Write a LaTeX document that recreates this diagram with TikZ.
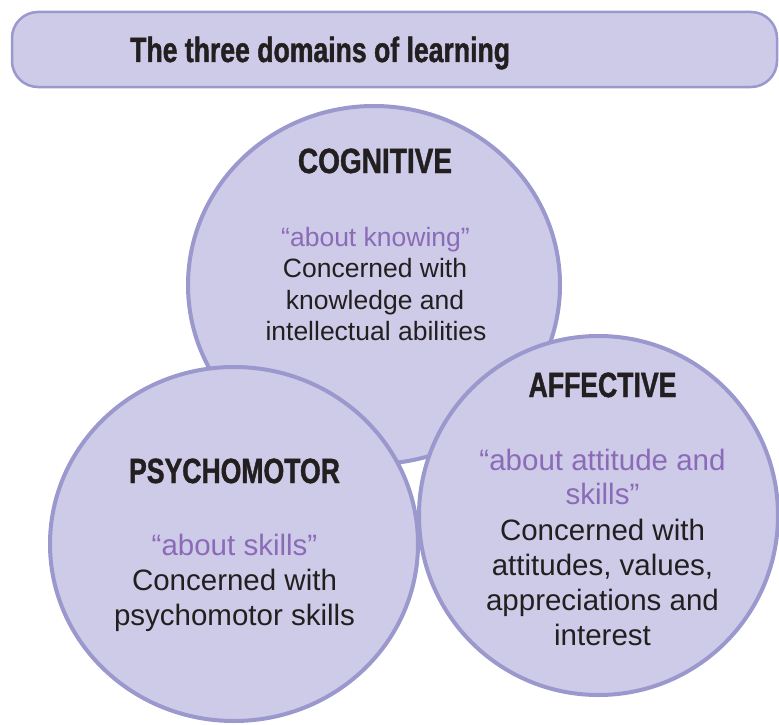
\documentclass[tikz,border=0pt]{standalone}
\usepackage{fontspec}
\setmainfont{Liberation Sans}
\newfontfamily\condfont[FakeStretch=0.8,FakeBold=1.2]{Liberation Sans}
\newfontfamily\narrowfont[FakeStretch=0.76,FakeBold=1.2]{Liberation Sans}
\newfontfamily\titlefont[FakeStretch=0.76,FakeBold=1.2]{Liberation Sans}
\definecolor{lavfill}{HTML}{CDCBE7}
\definecolor{lavline}{HTML}{9A98CD}
\definecolor{quotepurple}{HTML}{8B6BB8}
\definecolor{inkblack}{HTML}{231F20}
\tikzset{
  bubble/.style={fill=lavfill, draw=lavline, line width=4pt},
  titlebox/.style={fill=lavfill, draw=lavline, line width=2.5pt, rounded corners=26pt},
  heading/.style={inner sep=0pt, anchor=base, text=inkblack, font=\condfont\bfseries\fontsize{35}{40}\selectfont},
  narrowheading/.style={heading, font=\narrowfont\bfseries\fontsize{35}{40}\selectfont},
  smallline/.style={inner sep=0pt, anchor=base, text=inkblack, font=\fontsize{26.5}{31.5}\selectfont},
  bigline/.style={inner sep=0pt, anchor=base, text=inkblack, font=\fontsize{29.5}{35}\selectfont},
  quoted/.style={text=quotepurple}
}
\begin{document}
\begin{tikzpicture}[x=1pt, y=-1pt]
\useasboundingbox (0,0) rectangle (779,725);
% title bar
\draw[titlebox] (12,12) rectangle (777,87);
\node[heading, anchor=base west, font=\titlefont\bfseries\fontsize{35}{40}\selectfont] (title) at (130,62) {The three domains of learning};
% circles
\draw[bubble] (374,285) ellipse [x radius=186pt, y radius=179pt];
\draw[bubble] (234,544) ellipse [x radius=184pt, y radius=177pt];
\draw[bubble] (598.5,515.5) ellipse [x radius=179.5pt, y radius=179.5pt];
% cognitive
\node[heading] (cogh) at (375,173) {COGNITIVE};
\node[smallline, quoted] (cog1) at (375.5,246) {“about knowing”};
\node[smallline] (cog2) at (375,277.5) {Concerned with};
\node[smallline] (cog3) at (375,309) {knowledge and};
\node[smallline] (cog4) at (376,340) {intellectual abilities};
% psychomotor
\node[narrowheading] (psyh) at (234.5,483) {PSYCHOMOTOR};
\node[bigline, quoted] (psy1) at (234.5,555) {“about skills”};
\node[bigline] (psy2) at (234.5,590) {Concerned with};
\node[bigline] (psy3) at (234.5,625) {psychomotor skills};
% affective
\node[narrowheading] (affh) at (602.5,397) {AFFECTIVE};
\node[bigline, quoted] (aff1) at (602.5,470) {“about attitude and};
\node[bigline, quoted] (aff2) at (602.5,504) {skills”};
\node[bigline] (aff3) at (602.5,540) {Concerned with};
\node[bigline] (aff4) at (602.5,575) {attitudes, values,};
\node[bigline] (aff5) at (602.5,610) {appreciations and};
\node[bigline] (aff6) at (602.5,645) {interest};
\end{tikzpicture}
\end{document}
